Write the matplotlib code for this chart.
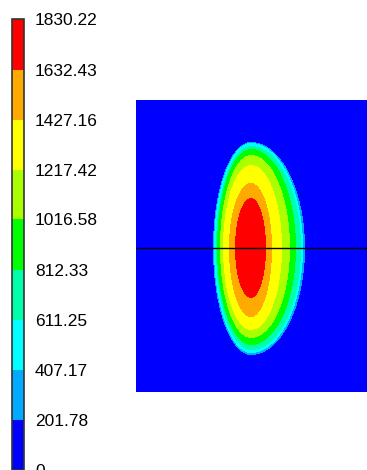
import numpy as np
import matplotlib
matplotlib.use("Agg")
import matplotlib.pyplot as plt
from matplotlib.colors import ListedColormap, BoundaryNorm
from matplotlib.cm import ScalarMappable

# Contour levels (colorbar boundaries) and their labels
levels = [0, 201.78, 407.17, 611.25, 812.33, 1016.58, 1217.42, 1427.16, 1632.43, 1830.22]
level_labels = ["0", "201.78", "407.17", "611.25", "812.33", "1016.58",
                "1217.42", "1427.16", "1632.43", "1830.22"]
band_colors = ["#0000ff", "#00aaff", "#00ffff", "#00ffaa", "#00ff00",
               "#aaff00", "#ffff00", "#ffaa00", "#ff0000"]

# Extents of each iso-line (levels[1:]), in plot units
# (x: 0..231 left->right, y: 0..292 top->bottom)
iso_left = [77, 78, 80, 81, 84, 87, 93, 99]
iso_right = [169, 167, 165, 160, 154, 146, 136, 130]
iso_top = [42, 43, 46, 49, 55, 65, 83, 98]
iso_bottom = [255, 253, 250, 245, 238, 230, 217, 198]
center_x = 115
center_y = 148
plot_w, plot_h = 231, 292
cut_line_y = 148

# Build stepwise field from the iso-line extents
xs = np.arange(plot_w) + 0.5
ys = np.arange(plot_h) + 0.5
X, Y = np.meshgrid(xs, ys)
dx = X - center_x
dy = Y - center_y
Z = np.full(X.shape, (levels[0] + levels[1]) / 2)
for k in range(len(iso_left)):
    a = np.where(dx < 0, center_x - iso_left[k], iso_right[k] - center_x)
    b = np.where(dy < 0, center_y - iso_top[k], iso_bottom[k] - center_y)
    inside = (dx / a) ** 2 + (dy / b) ** 2 <= 1.0
    Z[inside] = (levels[k + 1] + levels[k + 2]) / 2 if k + 2 < len(levels) else levels[-1] - 1

cmap = ListedColormap(band_colors)
norm = BoundaryNorm(levels, cmap.N)

W, H = 367, 470
fig = plt.figure(figsize=(W / 100, H / 100), dpi=100)

ax = fig.add_axes([136 / W, (H - 392) / H, (367 - 136) / W, 292 / H])
ax.imshow(Z, cmap=cmap, norm=norm, extent=(0, plot_w, plot_h, 0),
          interpolation="nearest", aspect="auto")
ax.axhline(cut_line_y, color="black", lw=1)
ax.set_xlim(0, plot_w)
ax.set_ylim(plot_h, 0)
ax.axis("off")

cax = fig.add_axes([12 / W, 0.5 / H, 12 / W, 450 / H])
cb = fig.colorbar(ScalarMappable(norm=norm, cmap=cmap), cax=cax,
                  ticks=levels, spacing="uniform")
cb.ax.set_yticklabels(level_labels, fontfamily="Liberation Sans", fontsize=12.5)
cb.ax.tick_params(length=0, pad=8)
cb.outline.set_edgecolor("#333333")
cb.outline.set_linewidth(1.2)

fig.savefig("out.png", dpi=100)
